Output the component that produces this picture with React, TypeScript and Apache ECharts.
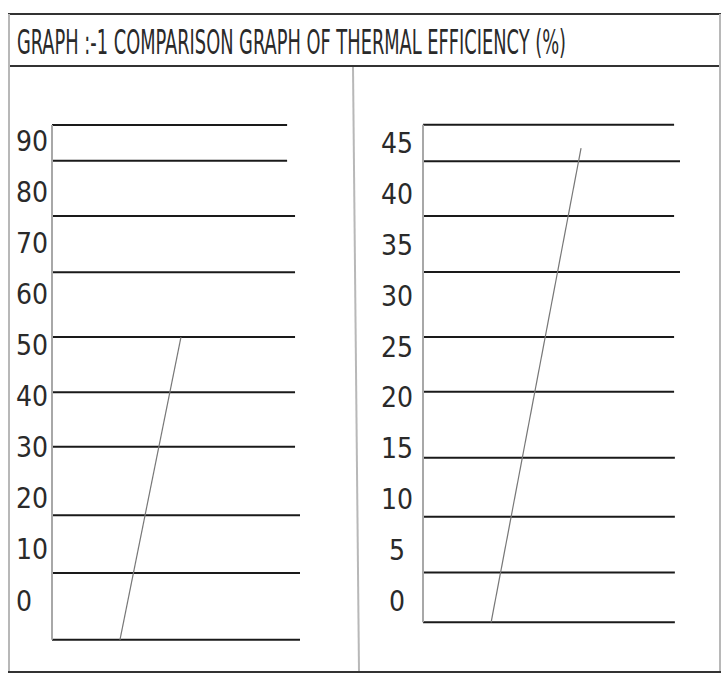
import React, { useEffect, useRef } from "react";
import * as echarts from "echarts";

// Titles
const titleText = "GRAPH :-1 COMPARISON GRAPH OF THERMAL EFFICIENCY (%)";

// Left panel (scale 0–90)
const leftAxisMin = -10;
const leftAxisMax = 100;
const leftInterval = 10;
const leftRuleY = [93.2, 86.2, 75.4, 64.4, 51.7, 40.9, 30.2, 16.8, 5.5, -7.6];
const leftRuleEnd = [9.48, 9.48, 9.8, 9.8, 9.8, 9.8, 9.8, 10, 10, 10];
const leftTrend = [
  [2.74, -7.6],
  [5.2, 51.7],
];

// Right panel (scale 0–45)
const rightAxisMin = -5;
const rightAxisMax = 50;
const rightInterval = 5;
const rightRuleY = [46.9, 43.3, 37.9, 32.4, 26.0, 20.6, 14.1, 8.3, 2.8, -2.1];
const rightRuleEnd = [9.77, 10, 9.77, 10, 9.77, 9.77, 9.8, 9.8, 9.8, 9.8];
const rightTrend = [
  [2.65, -2.1],
  [6.15, 44.6],
];

const LABEL_FONT = "'DejaVu Sans Condensed', 'Liberation Sans Narrow', sans-serif";

function panelSeries(
  idx: number,
  ruleY: number[],
  ruleEnd: number[],
  trend: number[][]
) {
  const s: any[] = [];
  ruleY.forEach((y, i) => {
    s.push({
      type: "line",
      xAxisIndex: idx,
      yAxisIndex: idx,
      data: [
        [0, y],
        [ruleEnd[i], y],
      ],
      symbol: "none",
      silent: true,
      lineStyle: { color: "#1a1a1a", width: 2 },
    });
  });
  // vertical axis stroke
  s.push({
    type: "line",
    xAxisIndex: idx,
    yAxisIndex: idx,
    data: [
      [0, ruleY[ruleY.length - 1]],
      [0, ruleY[0]],
    ],
    symbol: "none",
    silent: true,
    lineStyle: { color: "#a8a8a8", width: 2 },
  });
  s.push({
    type: "line",
    xAxisIndex: idx,
    yAxisIndex: idx,
    data: trend,
    symbol: "none",
    silent: true,
    lineStyle: { color: "#777777", width: 1.2 },
  });
  return s;
}

export default function App() {
  const ref = useRef<HTMLDivElement>(null);
  useEffect(() => {
    document.body.style.margin = "0";
    if (!ref.current) return;
    const chart = echarts.init(ref.current, null, { renderer: "svg" });
    const option: any = {
      animation: false,
      backgroundColor: "#ffffff",
      grid: [
        { left: 52, width: 248, top: 90.4, bottom: 22.9 },
        { left: 423, width: 257, top: 93.2, bottom: 23.2 },
      ],
      xAxis: [
        { type: "value", gridIndex: 0, min: 0, max: 10, show: false },
        { type: "value", gridIndex: 1, min: 0, max: 10, show: false },
      ],
      yAxis: [
        {
          type: "value",
          gridIndex: 0,
          min: leftAxisMin,
          max: leftAxisMax,
          interval: leftInterval,
          axisLine: { show: false },
          axisTick: { show: false },
          splitLine: { show: false },
          axisLabel: {
            showMinLabel: false,
            showMaxLabel: false,
            align: "left",
            margin: 36,
            fontFamily: LABEL_FONT,
            fontSize: 28,
            color: "#2a2a2a",
          },
        },
        {
          type: "value",
          gridIndex: 1,
          min: rightAxisMin,
          max: rightAxisMax,
          interval: rightInterval,
          axisLine: { show: false },
          axisTick: { show: false },
          splitLine: { show: false },
          axisLabel: {
            showMinLabel: false,
            showMaxLabel: false,
            align: "center",
            margin: 26,
            fontFamily: LABEL_FONT,
            fontSize: 28,
            color: "#2a2a2a",
          },
        },
      ],
      graphic: [
        { type: "line", shape: { x1: 8, y1: 14, x2: 721, y2: 14 }, style: { stroke: "#333", lineWidth: 2 }, silent: true },
        { type: "line", shape: { x1: 8, y1: 66, x2: 721, y2: 66 }, style: { stroke: "#333", lineWidth: 2 }, silent: true },
        { type: "line", shape: { x1: 9, y1: 14, x2: 9, y2: 672 }, style: { stroke: "#b8b8b8", lineWidth: 2 }, silent: true },
        { type: "line", shape: { x1: 720, y1: 14, x2: 720, y2: 672 }, style: { stroke: "#b8b8b8", lineWidth: 2 }, silent: true },
        { type: "line", shape: { x1: 8, y1: 672, x2: 721, y2: 672 }, style: { stroke: "#333", lineWidth: 2 }, silent: true },
        { type: "line", shape: { x1: 353, y1: 67, x2: 359, y2: 671 }, style: { stroke: "#b8b8b8", lineWidth: 2 }, silent: true },
        {
          type: "text",
          x: 17,
          y: 42,
          scaleX: 0.6,
          style: {
            text: titleText,
            fontFamily: LABEL_FONT,
            fontSize: 33,
            fill: "#2a2a2a",
            verticalAlign: "middle",
            align: "left",
          },
          silent: true,
        },
      ],
      series: [
        ...panelSeries(0, leftRuleY, leftRuleEnd, leftTrend),
        ...panelSeries(1, rightRuleY, rightRuleEnd, rightTrend),
      ],
    };
    chart.setOption(option);
    return () => chart.dispose();
  }, []);
  return <div ref={ref} style={{ width: 725, height: 675 }} />;
}
